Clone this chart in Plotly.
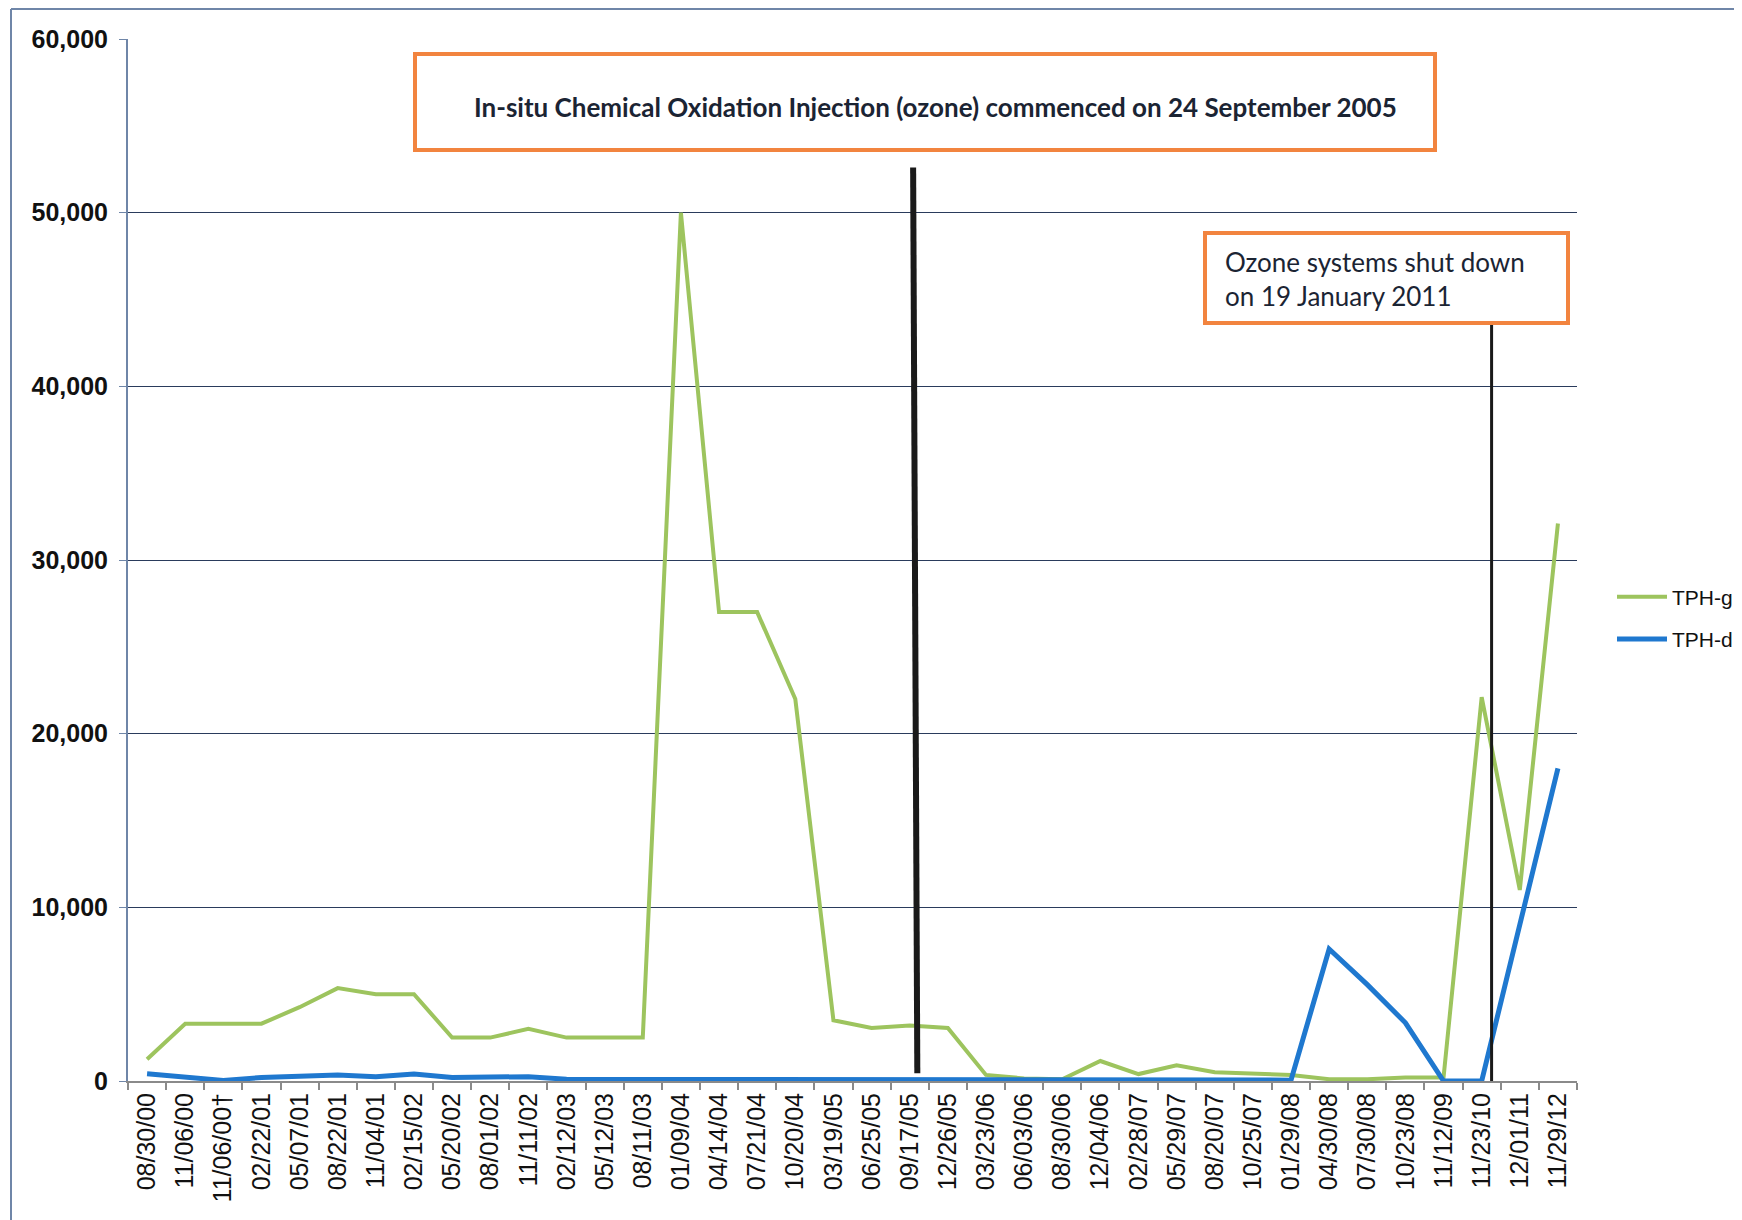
import plotly.graph_objects as go

# ---- data ----
dates = ["08/30/00", "11/06/00", "11/06/00\u2020", "02/22/01", "05/07/01", "08/22/01",
         "11/04/01", "02/15/02", "05/20/02", "08/01/02", "11/11/02", "02/12/03",
         "05/12/03", "08/11/03", "01/09/04", "04/14/04", "07/21/04", "10/20/04",
         "03/19/05", "06/25/05", "09/17/05", "12/26/05", "03/23/06", "06/03/06",
         "08/30/06", "12/04/06", "02/28/07", "05/29/07", "08/20/07", "10/25/07",
         "01/29/08", "04/30/08", "07/30/08", "10/23/08", "11/12/09", "11/23/10",
         "12/01/11", "11/29/12"]

tph_g = [1250, 3300, 3300, 3300, 4250, 5350, 5000, 5000, 2500, 2500, 3000, 2500,
         2500, 2500, 50000, 27000, 27000, 22000, 3500, 3050, 3200, 3050, 350, 150,
         100, 1150, 400, 900, 500, 450, 350, 100, 100, 200, 200, 22100, 11000, 32100]

tph_d = [420, 220, 30, 200, 300, 350, 250, 400, 200, 200, 250, 100, 100, 100,
         100, 100, 100, 100, 50, 50, 50, 50, 50, 50, 50, 50, 50, 50, 50, 50,
         50, 7600, 5550, 3350, 0, 0, 9100, 18000]

y_ticks = [0, 10000, 20000, 30000, 40000, 50000, 60000]

# event markers (category index positions)
event1 = {"x_top": 20.09, "x_bot": 20.2, "y_top": 52600, "y_bot": 450}
event2 = {"x": 35.26, "y_top": 43600, "y_bot": 0}

note1 = "<b>In-situ Chemical Oxidation Injection (ozone) commenced on 24 September 2005</b>"
note2 = "Ozone systems shut down<br>on 19 January 2011"

# ---- layout geometry (pixels); page body has an 8px margin ----
OFF = 8
W, H = 1742 - OFF, 1220 - OFF
L, R, T, B = 120, 165, 31, 139
PW, PH = W - L - R, H - T - B


def px(x):
    return (x - OFF - L) / PW


def py(y):
    return (H - B - (y - OFF)) / PH


GREEN = "#9DC45E"
BLUE = "#1F78CF"
ORANGE = "#F2843F"
TEXT = "#1B2433"

fig = go.Figure()
fig.add_trace(go.Scatter(x=dates, y=tph_g, name="TPH-g", mode="lines", legendgroup="g",
                         line=dict(color=GREEN, width=4)))
fig.add_trace(go.Scatter(x=dates, y=tph_d, name="TPH-d", mode="lines", legendgroup="d",
                         line=dict(color=BLUE, width=5)))

shapes = [
    dict(type="line", xref="x", yref="y", x0=event1["x_top"], y0=event1["y_top"],
         x1=event1["x_bot"], y1=event1["y_bot"], line=dict(color="#1A1A1A", width=6)),
    dict(type="line", xref="x", yref="y", x0=event2["x"], y0=event2["y_top"],
         x1=event2["x"], y1=event2["y_bot"], line=dict(color="#1A1A1A", width=3)),
    # note boxes
    dict(type="rect", xref="paper", yref="paper", x0=px(415), x1=px(1435), y0=py(54), y1=py(150),
         line=dict(color=ORANGE, width=4), fillcolor="white", layer="above"),
    dict(type="rect", xref="paper", yref="paper", x0=px(1205), x1=px(1568), y0=py(233), y1=py(323),
         line=dict(color=ORANGE, width=4), fillcolor="white", layer="above"),
    # page border (scan frame)
    dict(type="line", xref="paper", yref="paper", x0=px(11), x1=px(11), y0=py(9), y1=py(1220),
         line=dict(color="#6F86A8", width=2)),
    dict(type="line", xref="paper", yref="paper", x0=px(11), x1=px(1742), y0=py(9), y1=py(9),
         line=dict(color="#6F86A8", width=2)),
]

annotations = [
    dict(xref="paper", yref="paper", x=px(935), y=py(107), text=note1, showarrow=False,
         xanchor="center", yanchor="middle",
         font=dict(family="Lato, Open Sans, sans-serif", size=26, color=TEXT)),
    dict(xref="paper", yref="paper", x=px(1223), y=py(279), text=note2, showarrow=False,
         xanchor="left", yanchor="middle", align="left",
         font=dict(family="Lato, Open Sans, sans-serif", size=26, color=TEXT)),
]

fig.update_layout(
    width=W, height=H,
    margin=dict(l=L, r=R, t=T, b=B, autoexpand=False),
    paper_bgcolor="white", plot_bgcolor="white",
    shapes=shapes, annotations=annotations,
    showlegend=True,
    legend=dict(x=px(1612), y=py(618), xanchor="left", yanchor="middle",
                font=dict(family="Liberation Sans, Arial", size=21, color="#111"),
                bgcolor="rgba(0,0,0,0)", itemwidth=50, tracegroupgap=12),
    xaxis=dict(type="category", categoryorder="array", categoryarray=dates,
               tickangle=-90, tickfont=dict(family="Liberation Sans, Arial", size=25, color="#111"),
               showline=True, linecolor="#8A8A8A", linewidth=2, mirror=False,
               ticks="outside", tickson="boundaries", ticklen=7, tickcolor="#8A8A8A", tickwidth=1.5,
               showgrid=False, zeroline=False, range=[-0.5, len(dates) - 0.5]),
    yaxis=dict(range=[0, 60000], tickvals=y_ticks, tickformat=",d",
               tickfont=dict(family="Liberation Sans, Arial", size=25, color="#111", weight="bold"),
               ticklabelstandoff=6,
               showline=True, linecolor="#6F86A8", linewidth=2,
               ticks="outside", ticklen=7, tickcolor="#6F86A8",
               showgrid=True, gridcolor="#2A3B5C", gridwidth=1.2, zeroline=False),
)

fig.write_html("out.html")
